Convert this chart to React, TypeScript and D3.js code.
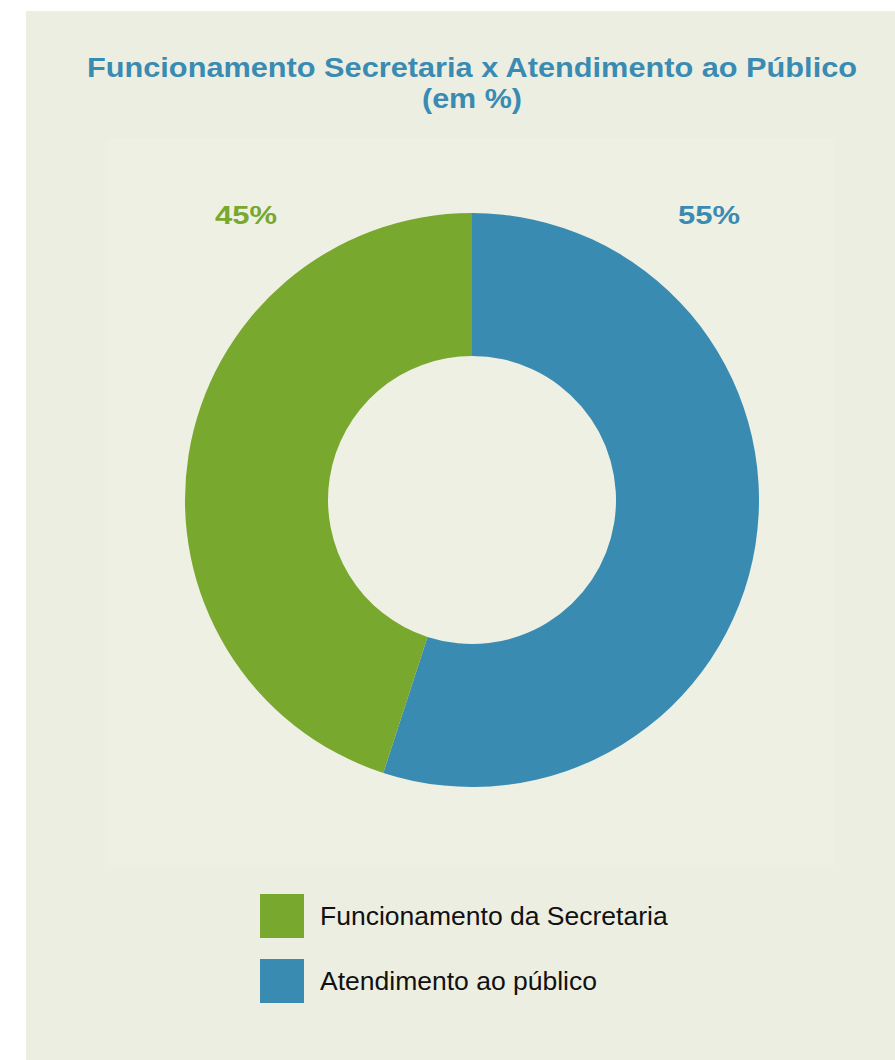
import React from "react";
import * as d3 from "d3";

const categories = ["Funcionamento da Secretaria", "Atendimento ao público"];
const values = [45, 55];
const labels = ["45%", "55%"];
const colors = ["#78A82E", "#3A8BB2"];
const title1 = "Funcionamento Secretaria x Atendimento ao Público";
const title2 = "(em %)";

export default function App() {
  const W = 895, H = 1060;
  const cx = 472, cy = 500, rOuter = 287, rInner = 144;
  const order = [1, 0];
  const pie = d3.pie<number>().sort(null).value((i) => values[i]);
  const arcs = pie(order);
  const arcGen = d3.arc<d3.PieArcDatum<number>>().innerRadius(rInner).outerRadius(rOuter);
  const ff = "Liberation Sans, Arial, sans-serif";
  return (
    <svg width={W} height={H} style={{ position: "absolute", left: 0, top: 0 }}>
      <rect x={26} y={11} width={W - 26} height={H - 11} fill="#EDEEE2" />
      <rect x={108} y={138} width={727} height={727} fill="#EEF0E4" />
      <text x={472} y={77} textAnchor="middle" fontFamily={ff} fontWeight="bold" fontSize={28} fill="#3A8BB2" textLength={770} lengthAdjust="spacingAndGlyphs">{title1}</text>
      <text x={472} y={108} textAnchor="middle" fontFamily={ff} fontWeight="bold" fontSize={28} fill="#3A8BB2" textLength={100} lengthAdjust="spacingAndGlyphs">{title2}</text>
      <g transform={`translate(${cx},${cy})`}>
        {arcs.map((a) => (
          <path key={a.data} d={arcGen(a) || ""} fill={colors[a.data]} />
        ))}
      </g>
      <text x={246} y={224} textAnchor="middle" fontFamily={ff} fontWeight="bold" fontSize={26} fill={colors[0]} textLength={62} lengthAdjust="spacingAndGlyphs">{labels[0]}</text>
      <text x={709} y={224} textAnchor="middle" fontFamily={ff} fontWeight="bold" fontSize={26} fill={colors[1]} textLength={62} lengthAdjust="spacingAndGlyphs">{labels[1]}</text>
      {categories.map((c, i) => (
        <g key={c}>
          <rect x={260} y={894 + i * 65} width={44} height={44} fill={colors[i]} />
          <text x={320} y={925 + i * 65} fontFamily={ff} fontSize={26.5} fill="#111">{c}</text>
        </g>
      ))}
    </svg>
  );
}
